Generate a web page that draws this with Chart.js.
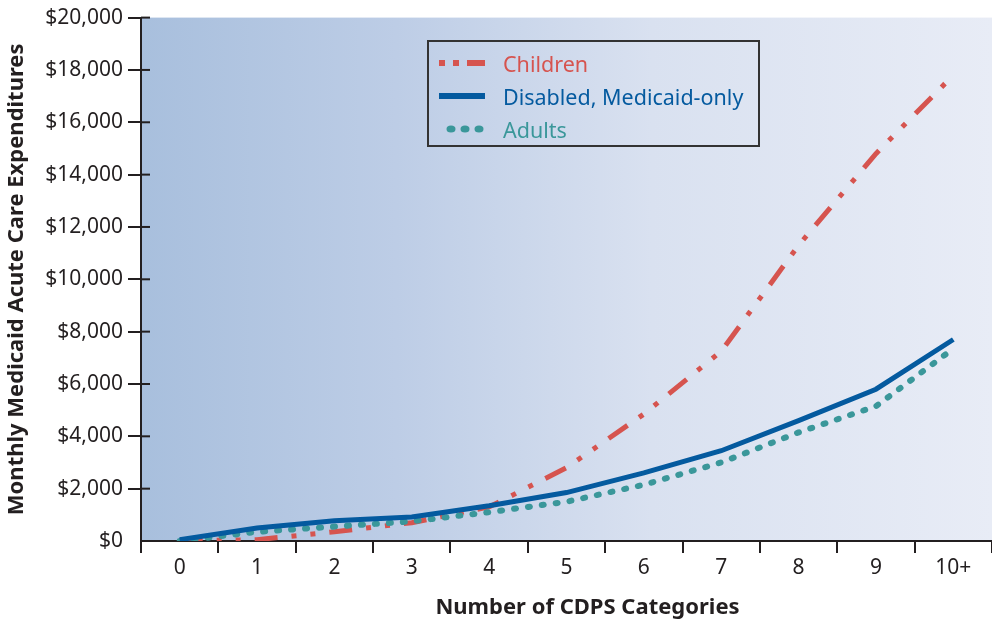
<!DOCTYPE html>
<html>
<head>
<meta charset="utf-8">
<script src="https://cdn.jsdelivr.net/npm/chart.js@4"></script>
<style>
  html, body { margin: 0; padding: 0; background: #fff; }
  #wrap { position: relative; width: 992px; height: 622px; }
  #legendBox {
    position: absolute; left: 427px; top: 40px; width: 329px; height: 103px;
    border: 2px solid #333; font-family: "Noto Sans", sans-serif; font-size: 21.5px;
  }
  .row { position: absolute; left: 0; height: 30px; display: flex; align-items: center; }
  .row svg { margin-left: 10px; margin-right: 18px; }
</style>
</head>
<body>
<div id="wrap">
  <canvas id="chart" width="992" height="622"></canvas>
  <div id="legendBox"></div>
</div>
<script>
// data
const categories = ["0", "1", "2", "3", "4", "5", "6", "7", "8", "9", "10+"];
const children = [0, 50, 350, 700, 1300, 2800, 4850, 7250, 11300, 14800, 17800];
const disabled = [50, 500, 770, 920, 1350, 1850, 2600, 3450, 4600, 5800, 7700];
const adults = [0, 350, 550, 750, 1100, 1500, 2150, 3000, 4150, 5150, 7350];
const seriesNames = ["Children", "Disabled, Medicaid-only", "Adults"];

const RED = "#d6544f";
const BLUE = "#045a9f";
const TEAL = "#3a979a";
const INK = "#231f20";

// gradient behind the plot area
const bgPlugin = {
  id: "bg",
  beforeDraw(c) {
    const a = c.chartArea, ctx = c.ctx;
    const g = ctx.createLinearGradient(a.left, 0, a.right, 0);
    g.addColorStop(0, "#a8bfdd");
    g.addColorStop(0.3, "#bdcde6");
    g.addColorStop(0.6, "#d9e1f0");
    g.addColorStop(1, "#e8ecf6");
    ctx.save();
    ctx.fillStyle = g;
    ctx.fillRect(a.left, a.top, a.right - a.left, a.bottom - a.top);
    ctx.restore();
  }
};

// small tick stubs inside the plot on the y axis, plus the x title
const extrasPlugin = {
  id: "extras",
  afterDraw(c) {
    const ctx = c.ctx, y = c.scales.y, a = c.chartArea;
    ctx.save();
    ctx.strokeStyle = INK;
    ctx.lineWidth = 2;
    y.ticks.forEach(t => {
      if (t.value === 0) return;
      const py = y.getPixelForValue(t.value);
      ctx.beginPath();
      ctx.moveTo(a.left, py);
      ctx.lineTo(a.left + 9, py);
      ctx.stroke();
    });
    ctx.fillStyle = INK;
    ctx.font = "bold 22px 'Noto Sans'";
    ctx.textAlign = "center";
    ctx.textBaseline = "middle";
    ctx.fillText("Number of CDPS Categories", (a.left + a.right) / 2 + 21, 608);
    ctx.restore();
  }
};

new Chart(document.getElementById("chart"), {
  type: "line",
  data: {
    labels: categories,
    datasets: [
      {
        label: seriesNames[0], data: children, borderColor: RED, borderWidth: 5,
        borderDash: [23, 14, 5, 14, 5, 14], borderCapStyle: "butt", order: 2
      },
      {
        label: seriesNames[1], data: disabled, borderColor: BLUE, borderWidth: 5, order: 0
      },
      {
        label: seriesNames[2], data: adults, borderColor: TEAL, borderWidth: 6,
        borderDash: [2, 12], borderCapStyle: "round", order: 1
      }
    ]
  },
  options: {
    responsive: false,
    animation: false,
    layout: { padding: { top: 0, right: 0, left: 0, bottom: 0 } },
    elements: { point: { radius: 0 }, line: { tension: 0, fill: false } },
    plugins: { legend: { display: false }, tooltip: { enabled: false } },
    scales: {
      x: {
        offset: true,
        grid: { offset: true, drawOnChartArea: false, tickLength: 12, color: INK, lineWidth: 2 },
        border: { color: INK, width: 2 },
        ticks: { color: INK, font: { family: "Noto Sans", size: 21 }, padding: 2 },
        afterFit(s) { s.height = 81; }
      },
      y: {
        min: 0, max: 20000,
        grid: {
          drawOnChartArea: false, tickLength: 13, lineWidth: 2,
          color: ctx => (ctx.tick && ctx.tick.value === 0 ? "rgba(0,0,0,0)" : INK)
        },
        border: { color: INK, width: 2 },
        ticks: {
          stepSize: 2000, color: INK, padding: 5,
          font: { family: "Noto Sans", size: 21 },
          callback: v => "$" + v.toLocaleString("en-US")
        },
        title: {
          display: true, text: "Monthly Medicaid Acute Care Expenditures",
          color: INK, font: { family: "Noto Sans", size: 22, weight: "bold" },
          padding: { top: 4, bottom: 0 }
        },
        afterFit(s) { s.width = 141; }
      }
    }
  },
  plugins: [bgPlugin, extrasPlugin]
});

// legend box with line samples
const legendBox = document.getElementById("legendBox");
const samples = [
  '<svg width="46" height="12"><rect x="0" y="3" width="6" height="6" fill="' + RED + '"/><rect x="14" y="3" width="6" height="6" fill="' + RED + '"/><rect x="28" y="3" width="18" height="6" fill="' + RED + '"/></svg>',
  '<svg width="46" height="12"><rect x="0" y="3" width="46" height="6" fill="' + BLUE + '"/></svg>',
  '<svg width="46" height="12"><ellipse cx="12" cy="6" rx="4.5" ry="3.5" fill="' + TEAL + '"/><ellipse cx="26" cy="6" rx="4.5" ry="3.5" fill="' + TEAL + '"/><ellipse cx="40" cy="6" rx="4.5" ry="3.5" fill="' + TEAL + '"/></svg>'
];
const textColors = [RED, BLUE, TEAL];
seriesNames.forEach((name, i) => {
  const row = document.createElement("div");
  row.className = "row";
  row.style.top = (6 + i * 33) + "px";
  row.innerHTML = samples[i] + '<span style="color:' + textColors[i] + '">' + name + '</span>';
  legendBox.appendChild(row);
});
</script>
</body>
</html>
